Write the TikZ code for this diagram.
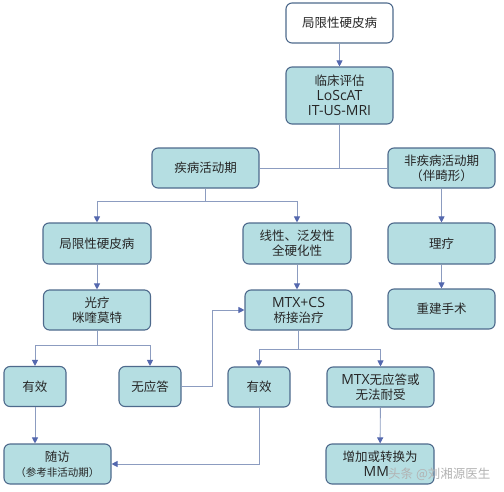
\documentclass[tikz,border=0pt]{standalone}
\usepackage{fontspec}
\newfontfamily\cjk{Noto Sans CJK SC}
\newfontfamily\latf{Open Sans}
\newcommand\lat[1]{{\latf\fontsize{14}{15}\selectfont #1}}
\usetikzlibrary{arrows.meta}
\definecolor{boxfill}{HTML}{B5DEE2}
\definecolor{boxline}{HTML}{4E6A8C}
\definecolor{conn}{HTML}{8C9CC0}
\definecolor{tipc}{HTML}{5468AE}
\tikzset{
  box/.style={draw=boxline, line width=1.1pt, fill=boxfill, rounded corners=6pt,
    minimum width=107pt, minimum height=40pt, align=center, inner sep=2pt,
    font=\cjk\fontsize{12.5}{15}\selectfont, text=black!85},
  wbox/.style={box, fill=white},
  sbox/.style={box, minimum width=62pt},
  conline/.style={draw=conn, line width=0.9pt},
  arr/.style={conline, -{Triangle[width=6pt,length=6pt,fill=tipc,color=tipc]}},
  wmark/.style={font=\cjk\fontsize{12.5}{14}\selectfont, anchor=west, inner sep=0pt, text=gray!60}
}
\begin{document}
\begin{tikzpicture}[x=1pt,y=-1pt]
\useasboundingbox (0,0) rectangle (504,491);
\node[wbox] (top) at (339.5,23) {局限性硬皮病};
\node[box, minimum height=57pt] (eval) at (339.5,95.5) {临床评估\\\lat{LoScAT}\\\lat{IT-US-MRI}};
\node[box] (act) at (205.5,168) {疾病活动期};
\node[box] (nact) at (441.5,168) {非疾病活动期\\（伴畸形）};
\node[box, minimum width=108pt, minimum height=41pt] (loc) at (97,243.5) {局限性硬皮病};
\node[box, minimum width=108pt, minimum height=41pt] (lin) at (297,243.5) {线性、泛发性\\全硬化性};
\node[box, minimum height=41pt] (phys) at (441.5,243.5) {理疗};
\node[box] (light) at (97,310) {光疗\\咪喹莫特};
\node[box] (mtx) at (298.5,310) {\lat{MTX+CS}\\桥接治疗};
\node[box] (surg) at (441.5,309) {重建手术};
\node[sbox] (eff1) at (35,386.5) {有效};
\node[sbox] (noresp) at (150,386.5) {无应答};
\node[sbox] (eff2) at (259,387) {有效};
\node[box] (mtxno) at (380.5,387) {\lat{MTX}无应答或\\无法耐受};
\node[box] (follow) at (57.5,464) {随访\\{\fontsize{10.5}{13}\selectfont （参考非活动期）}};
\node[box, minimum width=108pt] (mmf) at (380,464) {增加或转换为\\\lat{MM\phantom{F}}};
% watermark
\node[wmark] (wm) at (388,474) {头条 @刘湘源医生};
% connectors
\coordinate (k) at (212,0);
\coordinate (j1) at (205.5,201);
\coordinate (j2) at (97,345);
\coordinate (j3) at (298.5,349);
\draw[arr] (top) -- (eval);
\draw[conline] (eval.south) |- (act.east);
\draw[conline] (eval.south) |- (nact.west);
\draw[conline] (act.south) -- (j1);
\draw[arr] (j1) -| (loc.north);
\draw[arr] (j1) -| (lin.north);
\draw[arr] (nact) -- (phys);
\draw[arr] (phys) -- (surg);
\draw[arr] (loc) -- (light);
\draw[arr] (lin.south) -- (lin.south |- mtx.north);
\draw[conline] (light.south) -- (j2);
\draw[arr] (j2) -| (eff1.north);
\draw[arr] (j2) -| (noresp.north);
\draw[arr] (noresp.east) -- (noresp.east -| k) |- (mtx.west);
\draw[conline] (mtx.south) -- (j3);
\draw[arr] (j3) -| (eff2.north);
\draw[arr] (j3) -| (mtxno.north);
\draw[arr] (eff1.south) -- (eff1.south |- follow.north);
\draw[arr] (eff2.south) |- (follow.east);
\draw[arr] (mtxno) -- (mmf);
\end{tikzpicture}
\end{document}
